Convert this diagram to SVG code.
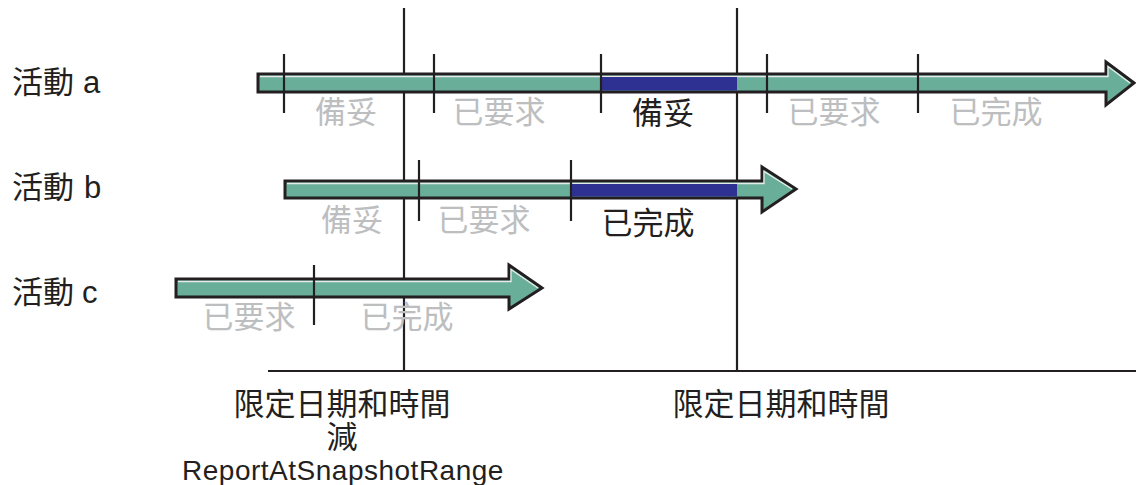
<svg xmlns="http://www.w3.org/2000/svg" width="1136" height="485" viewBox="0 0 1136 485">
<style>
  .bar{fill:#69ae98;stroke:#231f20;stroke-width:3;stroke-linejoin:miter}
  .hl{fill:none;stroke:#e8ece9;stroke-width:1.3}
  .blue{fill:#2e3192}
  .tick{stroke:#231f20;stroke-width:2.2}
  .axis{stroke:#231f20;stroke-width:2.2;fill:none}
  text{font-family:"Liberation Sans","Noto Sans CJK TC",sans-serif;font-size:31px;fill:#231f20}
  .g{fill:#bcbec0}
  .c{text-anchor:middle}
</style>
<rect width="1136" height="485" fill="#ffffff"/>
<g id="connectors">
  <line class="axis" x1="268" y1="371" x2="1136" y2="371"/>
  <line class="axis" x1="404" y1="8" x2="404" y2="371"/>
  <line class="axis" x1="737" y1="8" x2="737" y2="371"/>
</g>
<g id="activity-a">
  <polygon class="bar" points="258,74 1106,74 1106,62 1134,83 1106,105 1106,92 258,92"/>
  <polyline class="hl" points="260,76.5 1108,76.5 1108,66.5 1130,83"/>
  <rect class="blue" x="601" y="77" width="136" height="13.5"/>
  <line class="tick" x1="284" y1="54" x2="284" y2="113"/>
  <line class="tick" x1="434" y1="54" x2="434" y2="113"/>
  <line class="tick" x1="601" y1="54" x2="601" y2="113"/>
  <line class="tick" x1="767" y1="54" x2="767" y2="113"/>
  <line class="tick" x1="918" y1="54" x2="918" y2="113"/>
  <text x="12" y="93">活動 <tspan x="83">a</tspan></text>
  <text class="g c" x="346" y="123">備妥</text>
  <text class="g c" x="499" y="123">已要求</text>
  <text class="c" x="663" y="124">備妥</text>
  <text class="g c" x="834" y="123">已要求</text>
  <text class="g c" x="996" y="123">已完成</text>
</g>
<g id="activity-b">
  <polygon class="bar" points="285,181 762,181 762,167 796,189 762,212 762,198 285,198"/>
  <polyline class="hl" points="287,183.5 764,183.5 764,171.5 792,189"/>
  <rect class="blue" x="571" y="184" width="166" height="12.5"/>
  <line class="tick" x1="419" y1="160" x2="419" y2="221"/>
  <line class="tick" x1="571" y1="160" x2="571" y2="221"/>
  <text x="12" y="198">活動 <tspan x="84">b</tspan></text>
  <text class="g c" x="352" y="231">備妥</text>
  <text class="g c" x="484" y="231">已要求</text>
  <text class="c" x="648" y="234">已完成</text>
</g>
<g id="activity-c">
  <polygon class="bar" points="176,279 509,279 509,265 542,288 509,309 509,297 176,297"/>
  <polyline class="hl" points="178,281.5 511,281.5 511,269.5 538,288"/>
  <line class="tick" x1="314" y1="265" x2="314" y2="325"/>
  <text x="12" y="303">活動 <tspan x="82">c</tspan></text>
  <text class="g c" x="249" y="328">已要求</text>
  <text class="g c" x="407" y="328">已完成</text>
</g>
<g id="label-start">
  <text class="c" x="342" y="415">限定日期和時間</text>
  <text class="c" x="342" y="448">減</text>
  <text class="c" x="343" y="480" style="font-size:28px;letter-spacing:0.5px">ReportAtSnapshotRange</text>
</g>
<g id="label-end">
  <text class="c" x="781" y="415">限定日期和時間</text>
</g>
</svg>
